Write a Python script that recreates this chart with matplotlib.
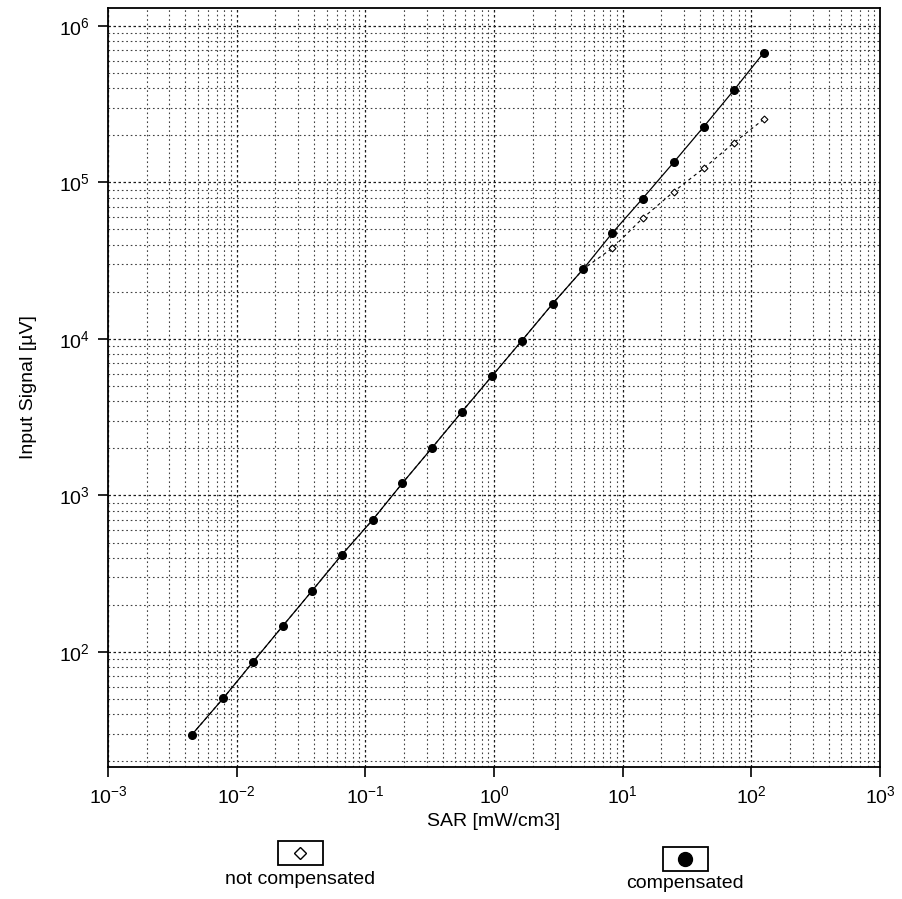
import matplotlib
matplotlib.use("Agg")
import matplotlib.pyplot as plt
from matplotlib.lines import Line2D
from matplotlib.patches import Rectangle
from matplotlib.ticker import LogLocator, NullFormatter

plt.rcParams['font.family'] = ['Liberation Sans', 'DejaVu Sans']
plt.rcParams['mathtext.fontset'] = 'custom'
plt.rcParams['mathtext.rm'] = 'Liberation Sans'
plt.rcParams['mathtext.it'] = 'Liberation Sans:italic'
plt.rcParams['mathtext.bf'] = 'Liberation Sans:bold'

# Data
sar = [0.00447, 0.00787, 0.01346, 0.0229, 0.0386, 0.0655, 0.114, 0.194, 0.331,
       0.564, 0.968, 1.64, 2.85, 4.93, 8.32, 14.3, 25.0, 42.8, 73.5, 125.0]
compensated = [29.5, 50.6, 86.7, 147, 246, 417, 698, 1197, 2020, 3428, 5804,
               9705, 16740, 27880, 47550, 78820, 134600, 227400, 389900, 674700]
not_compensated = [29.5, 50.6, 86.7, 147, 246, 417, 698, 1197, 2020, 3428, 5804,
                   9705, 16740, 27880, 38020, 59020, 87300, 123300, 179500, 253400]

xticks = [1e-3, 1e-2, 1e-1, 1e0, 1e1, 1e2, 1e3]
xticklabels = ['$\\mathregular{10^{-3}}$', '$\\mathregular{10^{-2}}$', '$\\mathregular{10^{-1}}$',
               '$\\mathregular{10^{0}}$', '$\\mathregular{10^{1}}$', '$\\mathregular{10^{2}}$',
               '$\\mathregular{10^{3}}$']
yticks = [1e2, 1e3, 1e4, 1e5, 1e6]
yticklabels = ['$\\mathregular{10^{2}}$', '$\\mathregular{10^{3}}$', '$\\mathregular{10^{4}}$',
               '$\\mathregular{10^{5}}$', '$\\mathregular{10^{6}}$']

W, H = 903, 899
fig = plt.figure(figsize=(W / 100, H / 100), dpi=100)
ax = fig.add_axes([108 / W, 1 - 767 / H, (880 - 108) / W, (767 - 8) / H])

ax.set_xscale('log')
ax.set_yscale('log')
ax.set_xlim(1e-3, 1e3)
ax.set_ylim(18.4, 1.3e6)

ax.plot(sar, not_compensated, linestyle=(0, (3, 3)), color='black', lw=0.8,
        marker='D', markersize=3.5, markerfacecolor='white', markeredgecolor='black',
        markeredgewidth=0.8, zorder=3)
ax.plot(sar, compensated, linestyle='-', color='black', lw=0.9,
        marker='o', markersize=5.5, markerfacecolor='black', markeredgecolor='black',
        zorder=4)

ax.xaxis.set_minor_locator(LogLocator(base=10, subs=range(2, 10), numticks=100))
ax.yaxis.set_minor_locator(LogLocator(base=10, subs=range(2, 10), numticks=100))
ax.xaxis.set_minor_formatter(NullFormatter())
ax.yaxis.set_minor_formatter(NullFormatter())
ax.set_xticks(xticks)
ax.set_xticklabels(xticklabels, fontsize=14)
ax.set_yticks(yticks)
ax.set_yticklabels(yticklabels, fontsize=14)
ax.tick_params(which='major', direction='out', length=7, width=1.2, color='black', pad=6)
ax.tick_params(which='minor', length=0)

ax.grid(True, which='major', linestyle=(0, (2, 2)), color='0.1', lw=0.9)
ax.grid(True, which='minor', linestyle=(0, (1.5, 2.5)), color='0.25', lw=0.8)

for s in ax.spines.values():
    s.set_linewidth(1.3)
    s.set_color('black')

ax.set_xlabel('SAR [mW/cm3]', fontsize=14, labelpad=4)
ax.set_ylabel('Input Signal [\u00b5V]', fontsize=14, labelpad=16)

# custom legend below the plot
def legend_item(cx, cy_box, bw, bh, text, ty, marker, mfc, ms):
    fig.add_artist(Rectangle((cx / W - bw / 2 / W, 1 - (cy_box + bh / 2) / H), bw / W, bh / H,
                             transform=fig.transFigure, fill=False, edgecolor='black', lw=1.3))
    fig.add_artist(Line2D([cx / W], [1 - cy_box / H], transform=fig.transFigure,
                          marker=marker, markersize=ms, markerfacecolor=mfc,
                          markeredgecolor='black', linestyle='none'))
    fig.text(cx / W, 1 - ty / H, text, ha='center', va='center', fontsize=14)

legend_item(300, 853, 45, 24, 'not compensated', 880, 'D', 'white', 6)
legend_item(685, 859, 45, 24, 'compensated', 884, 'o', 'black', 10)

fig.savefig('out.png', dpi=100)
